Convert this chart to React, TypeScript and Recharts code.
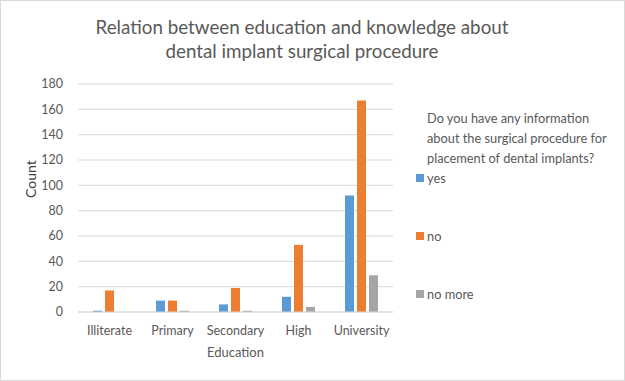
import React from 'react';
import { Bar, BarChart, CartesianGrid, Legend, XAxis, YAxis } from 'recharts';

const categories = ['Illiterate', 'Primary', 'Secondary', 'High', 'University'];
const yesValues = [1, 9, 6, 12, 92];
const noValues = [17, 9, 19, 53, 167];
const noMoreValues = [0, 1, 1, 4, 29];
const yTicks = [0, 20, 40, 60, 80, 100, 120, 140, 160, 180];

const seriesInfo = [
  { key: 'yes', label: 'yes', color: '#5B9BD5' },
  { key: 'no', label: 'no', color: '#ED7D31' },
  { key: 'noMore', label: 'no more', color: '#A5A5A5' }
];

const data = categories.map((name, i) => ({
  name,
  yes: yesValues[i],
  no: noValues[i],
  noMore: noMoreValues[i]
}));

const font = 'Lato, "Open Sans", sans-serif';
const textColor = '#595959';
const legendWidth = 205;

// custom legend: title + items spread vertically like Excel does
const renderLegend = () => (
  <div style={{ fontFamily: font, color: textColor, fontSize: 12.8 }}>
    <div style={{ lineHeight: '20px', marginLeft: 11, width: 185 }}>
      Do you have any information about the surgical procedure for placement of dental implants?
    </div>
    {seriesInfo.map((s, i) => (
      <div
        key={s.key}
        style={{ display: 'flex', alignItems: 'center', marginTop: i === 0 ? 2 : 42, height: 16 }}
      >
        <span style={{ width: 8, height: 8, background: s.color, marginRight: 3 }} />
        <span>{s.label}</span>
      </div>
    ))}
  </div>
);

const App: React.FC = () => {
  return (
    <div
      style={{
        position: 'absolute',
        left: 0,
        top: 0,
        width: 625,
        height: 381,
        background: '#fff',
        border: '1px solid #d9d9d9',
        boxSizing: 'border-box',
        fontFamily: font
      }}
    >
      <div
        style={{
          position: 'absolute',
          top: 14,
          left: 0,
          width: 602,
          textAlign: 'center',
          fontSize: 18.8,
          lineHeight: '24px',
          color: textColor
        }}
      >
        Relation between education and knowledge about
        <br />
        dental implant surgical procedure
      </div>
      <div style={{ position: 'absolute', left: -1, top: -1 }}>
        <BarChart
          width={625}
          height={381}
          data={data}
          margin={{ top: 84, right: 232 - legendWidth, bottom: 0, left: 0 }}
          barSize={9}
          barGap={3}
        >
          <CartesianGrid vertical={false} stroke="#d9d9d9" />
          <XAxis
            dataKey="name"
            height={69}
            interval={0}
            axisLine={{ stroke: '#d9d9d9' }}
            tickLine={false}
            tickMargin={8}
            tick={{ fill: textColor, fontSize: 12.5, fontFamily: font }}
            label={{
              value: 'Education',
              position: 'insideBottom',
              offset: 24,
              fill: textColor,
              fontSize: 13,
              fontFamily: font
            }}
          />
          <YAxis
            width={78}
            domain={[0, 180]}
            ticks={yTicks}
            axisLine={false}
            tickLine={false}
            tickMargin={9}
            tick={{ fill: textColor, fontSize: 12.5, fontFamily: font }}
            label={{
              value: 'Count',
              angle: -90,
              position: 'insideLeft',
              offset: 31,
              fill: '#404040',
              fontSize: 14,
              fontFamily: font
            }}
          />
          <Legend
            layout="vertical"
            verticalAlign="top"
            align="right"
            content={renderLegend}
            wrapperStyle={{ left: 416, top: 108, width: legendWidth }}
          />
          {seriesInfo.map(s => (
            <Bar key={s.key} dataKey={s.key} name={s.label} fill={s.color} isAnimationActive={false} />
          ))}
        </BarChart>
      </div>
    </div>
  );
};

export default App;
